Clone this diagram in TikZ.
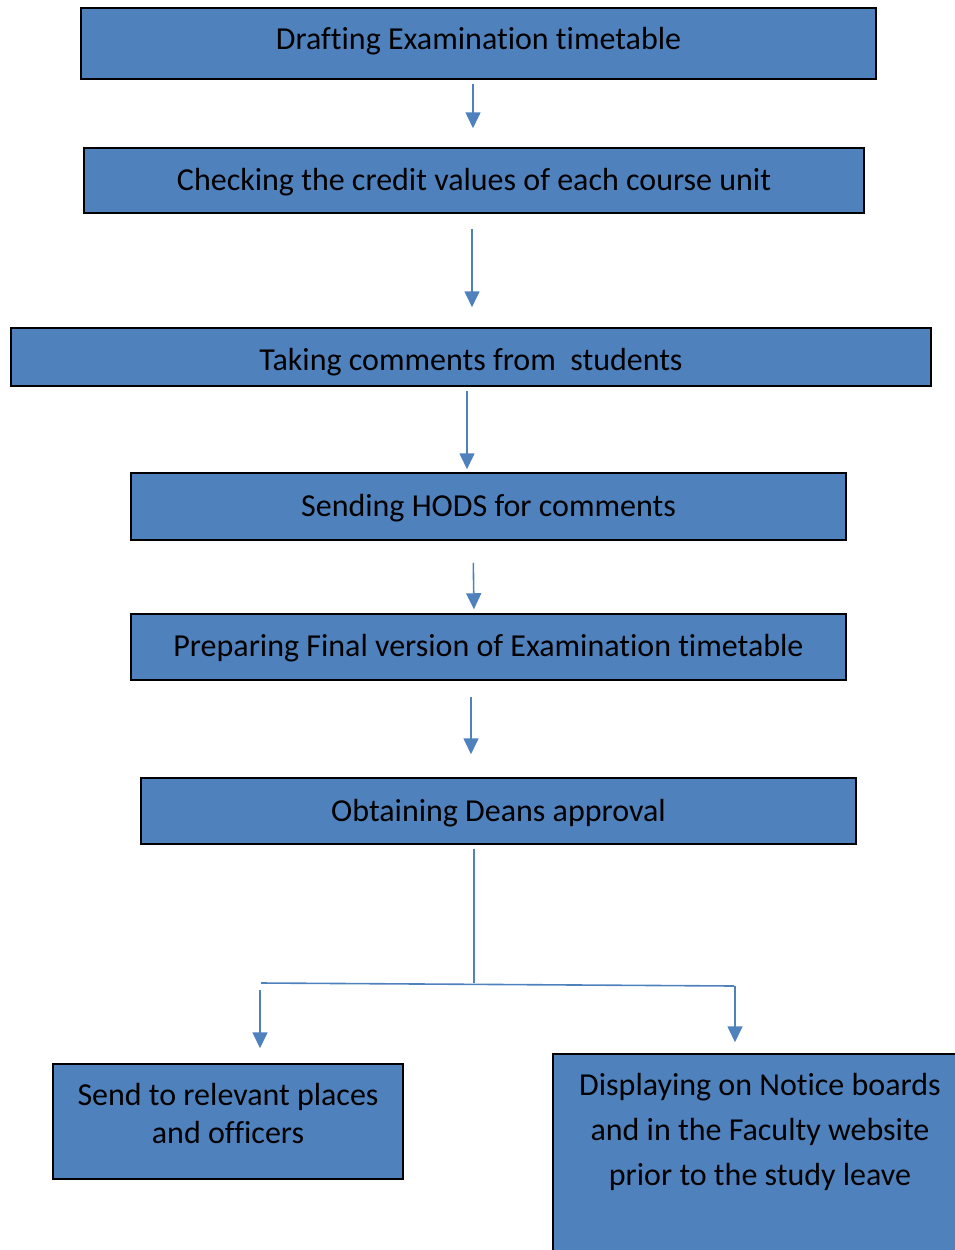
\documentclass[tikz,border=0pt]{standalone}
\usepackage{fontspec}
\setmainfont[Ligatures=NoCommon]{Carlito}
\usetikzlibrary{arrows.meta}
\definecolor{boxblue}{RGB}{79,129,189}
\newcommand{\nudge}[2]{\raisebox{#1}[\height][\depth]{#2}}
\tikzset{
  box/.style={draw=black, line width=1.5pt, fill=boxblue, inner sep=0pt, align=center, font=\fontsize{32}{38}\selectfont},
  arr/.style={draw=boxblue, line width=1.6pt, -{Triangle[length=16pt,width=15pt]}},
  link/.style={draw=boxblue, line width=1.6pt}
}
\begin{document}
\begin{tikzpicture}[x=1pt,y=-1pt]
\useasboundingbox (0,0) rectangle (955,1250);
\node[box, minimum width=795, minimum height=71] (n1) at (478.5,43.5) {\nudge{2pt}{Drafting Examination timetable}};
\node[box, minimum width=780, minimum height=65] (n2) at (474,180.5) {\nudge{-2pt}{Checking the credit values of each course unit}};
\node[box, minimum width=920, minimum height=58] (n3) at (471,357) {\nudge{-5pt}{Taking comments from\ \ students}};
\node[box, minimum width=715, minimum height=67] (n4) at (488.5,506.5) {\nudge{-2pt}{Sending HODS for comments}};
\node[box, minimum width=715, minimum height=66] (n5) at (488.5,647) {\nudge{-1pt}{Preparing Final version of Examination timetable}};
\node[box, minimum width=715, minimum height=66] (n6) at (498.5,811) {\nudge{-2pt}{Obtaining Deans approval}};
\node[box, minimum width=350, minimum height=115] (n7) at (228,1121.5) {\parbox[c][115pt][t]{340pt}{\centering\vspace{19pt}Send to relevant places\\and officers}};
\node[box, minimum width=408, minimum height=204, font=\fontsize{32}{45}\selectfont] (n8) at (757,1156) {\parbox[c][204pt][t]{400pt}{\centering\vspace{19pt}\hspace*{6pt}Displaying on Notice boards\\\hspace*{6pt}and in the Faculty website\\\hspace*{6pt}prior to the study leave}};
\coordinate (j) at (474,983);
\coordinate (jl) at (261,983);
\coordinate (jr) at (734,986);
\draw[arr, shorten <=4pt, shorten >=19pt] ([xshift=-5.5pt]n1.south) -- ([xshift=-1pt]n2.north);
\draw[arr, shorten <=15pt, shorten >=20pt] ([xshift=-2pt]n2.south) -- ([xshift=1pt]n3.north);
\draw[arr, shorten <=4pt, shorten >=3pt] ([xshift=-4pt]n3.south) -- ([xshift=-21.5pt]n4.north);
\draw[arr, shorten <=22pt, shorten >=4pt] ([xshift=-15.5pt]n4.south) -- ([xshift=-14.5pt]n5.north);
\draw[arr, shorten <=16pt, shorten >=23pt] ([xshift=-17.5pt]n5.south) -- ([xshift=-27.5pt]n6.north);
\draw[link, shorten <=4pt] ([xshift=-24.5pt]n6.south) -- (j);
\draw[link] (jl) -- (jr);
\draw[arr, shorten <=7pt, shorten >=15pt] ([xshift=-1pt]jl) -- ([xshift=32pt]n7.north);
\draw[arr, shorten <=0pt, shorten >=11pt] ([xshift=1pt]jr) -- ([xshift=-22pt]n8.north);
\end{tikzpicture}
\end{document}
